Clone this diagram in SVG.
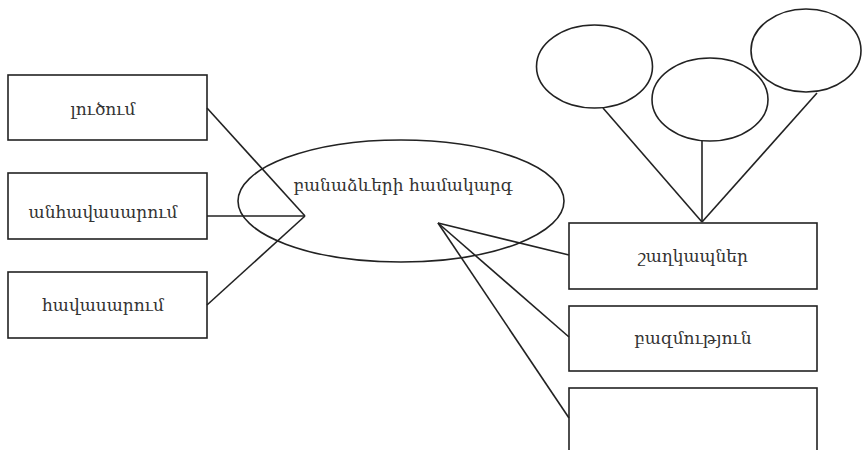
<svg xmlns="http://www.w3.org/2000/svg" width="862" height="450" viewBox="0 0 862 450">
  <style>
    .shape { fill: none; stroke: #222; stroke-width: 1.6; }
    .link { stroke: #222; stroke-width: 1.6; fill: none; }
    .label { font-family: "DejaVu Serif", "Liberation Serif", serif; font-size: 17px; fill: #333; text-anchor: middle; }
  </style>
  <rect width="862" height="450" fill="#fff"/>

  <g id="connectors">
    <line class="link" x1="207" y1="108" x2="305" y2="216"/>
    <line class="link" x1="207" y1="216" x2="305" y2="216"/>
    <line class="link" x1="207" y1="305" x2="305" y2="216"/>
    <line class="link" x1="438" y1="223" x2="569" y2="255"/>
    <line class="link" x1="438" y1="223" x2="569" y2="337"/>
    <line class="link" x1="438" y1="223" x2="569" y2="418"/>
    <line class="link" x1="603" y1="108" x2="702" y2="222"/>
    <line class="link" x1="702" y1="141" x2="702" y2="222"/>
    <line class="link" x1="817" y1="93" x2="702" y2="222"/>
  </g>

  <g id="node-lucum">
    <rect class="shape" x="8" y="75" width="199" height="65"/>
    <text class="label" x="103" y="115">լուծում</text>
  </g>
  <g id="node-anhavasarum">
    <rect class="shape" x="8" y="173" width="199" height="66"/>
    <text class="label" x="103" y="218">անհավասարում</text>
  </g>
  <g id="node-havasarum">
    <rect class="shape" x="8" y="272" width="199" height="66"/>
    <text class="label" x="103" y="311">հավասարում</text>
  </g>

  <g id="node-system">
    <ellipse class="shape" cx="401" cy="201" rx="163" ry="61"/>
    <text class="label" x="403" y="191">բանաձևերի համակարգ</text>
  </g>

  <g id="node-shaghkapner">
    <rect class="shape" x="569" y="223" width="248" height="66"/>
    <text class="label" x="693" y="262">շաղկապներ</text>
  </g>
  <g id="node-bazmutyun">
    <rect class="shape" x="569" y="306" width="248" height="65"/>
    <text class="label" x="693" y="344">բազմություն</text>
  </g>
  <g id="node-empty">
    <rect class="shape" x="569" y="388" width="248" height="80"/>
  </g>

  <g id="node-circle-1">
    <ellipse class="shape" cx="594.5" cy="66.5" rx="58" ry="41.5"/>
  </g>
  <g id="node-circle-2">
    <ellipse class="shape" cx="710" cy="99.5" rx="58" ry="41.5"/>
  </g>
  <g id="node-circle-3">
    <ellipse class="shape" cx="806" cy="50.5" rx="55" ry="41.5"/>
  </g>
</svg>
